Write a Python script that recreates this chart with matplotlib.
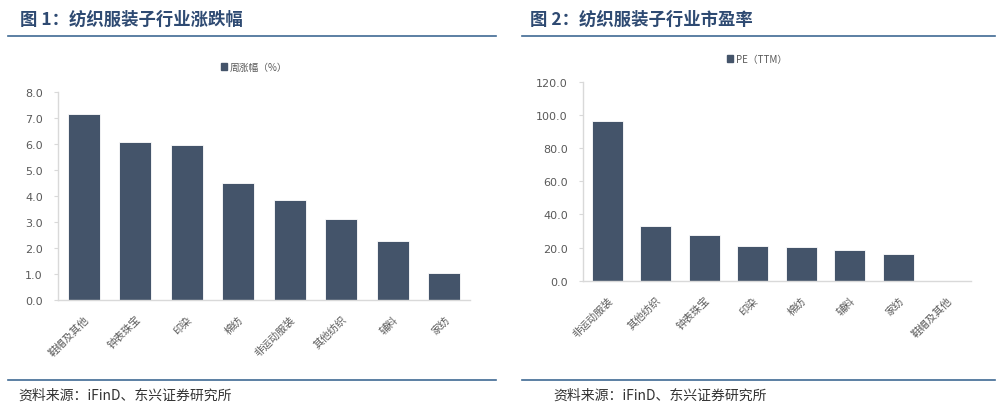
import matplotlib.pyplot as plt
from matplotlib.lines import Line2D
from matplotlib.patches import Patch

plt.rcParams['font.family'] = ['Noto Sans CJK SC', 'DejaVu Sans']

# 图1 数据
cats1 = ["鞋帽及其他", "钟表珠宝", "印染", "棉纺", "非运动服装", "其他纺织", "辅料", "家纺"]
chg1 = [7.18, 6.07, 5.95, 4.51, 3.83, 3.13, 2.25, 1.04]

# 图2 数据
cats2 = ["非运动服装", "其他纺织", "钟表珠宝", "印染", "棉纺", "辅料", "家纺", "鞋帽及其他"]
pe2 = [96.3, 33.2, 27.8, 20.7, 20.1, 18.4, 16.4, 0.0]

bar_color = "#44546A"
tick_gray = "#595959"
spine_gray = "#D9D9D9"
title_blue = "#2E4A72"
rule_blue = "#3F6A93"

fig = plt.figure(figsize=(9.99, 4.10), dpi=100)


def draw_panel(rect, cats, vals, ymax, ystep, label, leg_xy):
    ax = fig.add_axes(rect)
    x = range(len(cats))
    ax.bar(x, vals, width=0.63, color=bar_color, edgecolor="white", linewidth=0.6, label=label)
    ax.set_xlim(-0.5, len(cats) - 0.5)
    ax.set_ylim(0, ymax)
    ticks = [i * ystep for i in range(int(round(ymax / ystep)) + 1)]
    ax.set_yticks(ticks)
    ax.set_yticklabels([f"{t:.1f}" for t in ticks], fontsize=8, color=tick_gray,
                       family="DejaVu Sans")
    ax.set_xticks(list(x))
    ax.set_xticklabels(cats, rotation=45, ha="right", rotation_mode="anchor",
                       fontsize=7.5, color=tick_gray)
    for s in ["top", "right"]:
        ax.spines[s].set_visible(False)
    for s in ["left", "bottom"]:
        ax.spines[s].set_color(spine_gray)
        ax.spines[s].set_linewidth(1.0)
    ax.tick_params(axis="y", length=3, color=spine_gray, pad=8)
    ax.tick_params(axis="x", length=0, pad=10)
    ax.legend(handles=[Patch(color=bar_color, label=label)], frameon=False,
              loc="center", bbox_to_anchor=leg_xy, bbox_transform=fig.transFigure,
              fontsize=7, handlelength=0.6, handleheight=0.6, handletextpad=0.3,
              labelcolor=tick_gray)
    return ax


draw_panel([58 / 999, 0.2666, 412 / 999, 0.5058], cats1, chg1, 8.0, 1.0,
           "周涨幅（%）", (254 / 999, 1 - 68 / 410))
draw_panel([583 / 999, 0.3129, 388 / 999, 0.4854], cats2, pe2, 120.0, 20.0,
           "PE（TTM）", (757 / 999, 1 - 60 / 410))

# 标题
fig.text(20 / 999, 1 - 20 / 410, "图 1：纺织服装子行业涨跌幅", fontsize=12.5,
         fontweight="bold", color=title_blue, va="center", ha="left")
fig.text(530 / 999, 1 - 20 / 410, "图 2：纺织服装子行业市盈率", fontsize=12.5,
         fontweight="bold", color=title_blue, va="center", ha="left")

# 分隔线
for x0, x1 in [(8, 496), (522, 995)]:
    fig.add_artist(Line2D([x0 / 999, x1 / 999], [1 - 37 / 410] * 2,
                          color=rule_blue, linewidth=1.2))
    fig.add_artist(Line2D([x0 / 999, x1 / 999], [1 - 381 / 410] * 2,
                          color=rule_blue, linewidth=1.2))

# 资料来源
fig.text(18 / 999, 1 - 396 / 410, "资料来源：iFinD、东兴证券研究所", fontsize=10,
         style="italic", color="#333333", va="center", ha="left")
fig.text(553 / 999, 1 - 396 / 410, "资料来源：iFinD、东兴证券研究所", fontsize=10,
         style="italic", color="#333333", va="center", ha="left")

fig.savefig("out.png", dpi=100)
